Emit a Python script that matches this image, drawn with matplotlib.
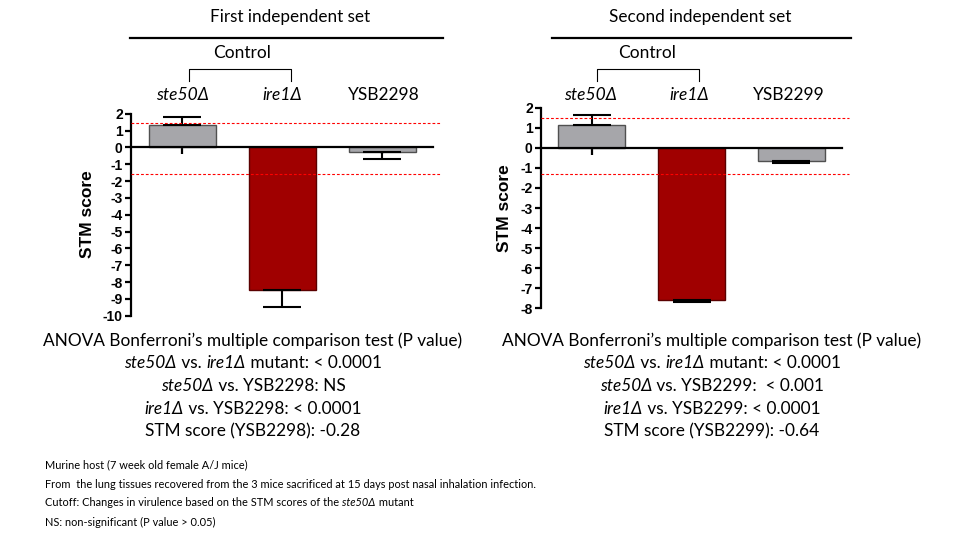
import matplotlib
matplotlib.use("Agg")
import matplotlib.pyplot as plt
import numpy as np

# ---- data ----
strains1 = ["ste50Δ", "ire1Δ", "YSB2298"]
scores1 = [1.35, -8.5, -0.3]
err1 = [0.45, 0.97, 0.37]
cutoff1 = [1.45, -1.58]

strains2 = ["ste50Δ", "ire1Δ", "YSB2299"]
scores2 = [1.12, -7.6, -0.66]
err2 = [0.53, 0.1, 0.1]
cutoff2 = [1.47, -1.32]

titles = ["First independent set", "Second independent set"]
stats1 = [
    [("ANOVA Bonferroni\u2019s multiple comparison test (P value)", False)],
    [("ste50Δ", True), (" vs. ", False), ("ire1Δ", True), (" mutant: < 0.0001", False)],
    [("ste50Δ", True), (" vs. YSB2298: NS", False)],
    [("ire1Δ", True), (" vs. YSB2298: < 0.0001", False)],
    [("STM score (YSB2298): -0.28", False)],
]
stats2 = [
    [("ANOVA Bonferroni\u2019s multiple comparison test (P value)", False)],
    [("ste50Δ", True), (" vs. ", False), ("ire1Δ", True), (" mutant: < 0.0001", False)],
    [("ste50Δ", True), (" vs. YSB2299:  < 0.001", False)],
    [("ire1Δ", True), (" vs. YSB2299: < 0.0001", False)],
    [("STM score (YSB2299): -0.64", False)],
]
notes = [
    [("Murine host (7 week old female A/J mice)", False)],
    [("From  the lung tissues recovered from the 3 mice sacrificed at 15 days post nasal inhalation infection.", False)],
    [("Cutoff: Changes in virulence based on the STM scores of the ", False), ("ste50Δ", True), (" mutant", False)],
    [("NS: non-significant (P value > 0.05)", False)],
]

W, H = 960, 535
fig = plt.figure(figsize=(9.6, 5.35), dpi=100)
FONT = ["Lato", "DejaVu Sans"]
TICKFONT = ["Liberation Sans", "DejaVu Sans"]
renderer = fig.canvas.get_renderer()


def fx(px):
    return px / W


def fy(py):
    return 1 - py / H


def run_width(text, italic, size):
    # width of a run incl. leading/trailing spaces
    t1 = fig.text(0, 0, "|" + text + "|", fontsize=size, family=FONT,
                  style="italic" if italic else "normal")
    t2 = fig.text(0, 0, "||", fontsize=size, family=FONT)
    w = t1.get_window_extent(renderer).width - t2.get_window_extent(renderer).width
    t1.remove()
    t2.remove()
    return w


def draw_runs(x, y, parts, size, ha="center"):
    widths = [run_width(t, it, size) for t, it in parts]
    total = sum(widths)
    start = x - total / 2 if ha == "center" else x
    for (t, it), w in zip(parts, widths):
        fig.text(fx(start), fy(y), t, fontsize=size, family=FONT,
                 style="italic" if it else "normal", ha="left", va="center")
        start += w


def panel(rect, strains, scores, errs, cutoffs, ylim, yticks, title, stats,
          title_x, rule, ctrl_x, bracket, lab_x, stats_x, ylab_xy):
    ax = fig.add_axes(rect)
    x = np.arange(len(strains))
    colors = ["#a6a6aa", "#a00000", "#a6a6aa"]
    edges = ["#505050", "#5a0000", "#505050"]
    ax.bar(x, scores, width=0.67, color=colors, edgecolor=edges, linewidth=1.0, zorder=2)
    lower = [0 if s > 0 else e for s, e in zip(scores, errs)]
    upper = [e if s > 0 else 0 for s, e in zip(scores, errs)]
    ax.errorbar(x, scores, yerr=[lower, upper], fmt="none", ecolor="black",
                elinewidth=1.5, capsize=14, capthick=1.5, zorder=3)
    for c in cutoffs:
        ax.plot([-0.51, 2.58], [c, c], color="red", lw=0.8, ls=(0, (2.5, 1.8)),
                clip_on=False, zorder=4)
    ax.set_xlim(-0.51, 2.51)
    ax.set_ylim(*ylim)
    ax.spines["top"].set_visible(False)
    ax.spines["right"].set_visible(False)
    ax.spines["bottom"].set_position(("data", 0))
    ax.spines["bottom"].set_zorder(5)
    for s in ["left", "bottom"]:
        ax.spines[s].set_linewidth(1.6)
    ax.set_xticks(x)
    ax.set_xticklabels([])
    ax.tick_params(axis="x", direction="out", length=5, width=1.6)
    ax.set_yticks(yticks)
    ax.set_yticklabels([str(v) for v in yticks], fontweight="bold",
                       family=TICKFONT, fontsize=10)
    ax.tick_params(axis="y", direction="out", length=4.5, width=1.6, pad=1.5)
    ax.set_facecolor("none")

    fig.text(fx(ylab_xy[0]), fy(ylab_xy[1]), "STM score", rotation=90,
             fontweight="bold", family=TICKFONT, fontsize=12.5, ha="center", va="center")

    # headers
    fig.text(fx(title_x), fy(17), title, fontsize=12.3, family=FONT, ha="center", va="center")
    fig.add_artist(plt.Line2D([fx(rule[0]), fx(rule[1])], [fy(38), fy(38)],
                              color="black", lw=1.6))
    fig.text(fx(ctrl_x), fy(53), "Control", fontsize=12.5, family=FONT, ha="center", va="center")
    fig.add_artist(plt.Line2D([fx(bracket[0]), fx(bracket[0]), fx(bracket[1]), fx(bracket[1])],
                              [fy(81), fy(69), fy(69), fy(81)], color="black", lw=0.8))
    for lx, s in zip(lab_x, strains):
        it = "Δ" in s
        fig.text(fx(lx), fy(95), s, fontsize=12.5, family=FONT,
                 style="italic" if it else "normal", ha="center", va="center")

    for i, parts in enumerate(stats):
        draw_runs(stats_x, 341 + i * 22.5, parts, 12.4)


panel([fx(131), fy(315.7), fx(302), 202 / H], strains1, scores1, err1, cutoff1,
      (-10, 2), list(range(2, -11, -1)), titles[0], stats1,
      290, (130, 443), 242, (189, 291), (182, 282, 384), 253, (88, 214))
panel([fx(541), fy(308.3), fx(301), 200.6 / H], strains2, scores2, err2, cutoff2,
      (-8, 2), list(range(2, -9, -1)), titles[1], stats2,
      700, (552, 851), 647, (597, 699), (590, 689, 789), 712, (505, 208))

for i, parts in enumerate(notes):
    draw_runs(45, 465 + i * 19, parts, 7.9, ha="left")

fig.savefig("out.png", dpi=100)
